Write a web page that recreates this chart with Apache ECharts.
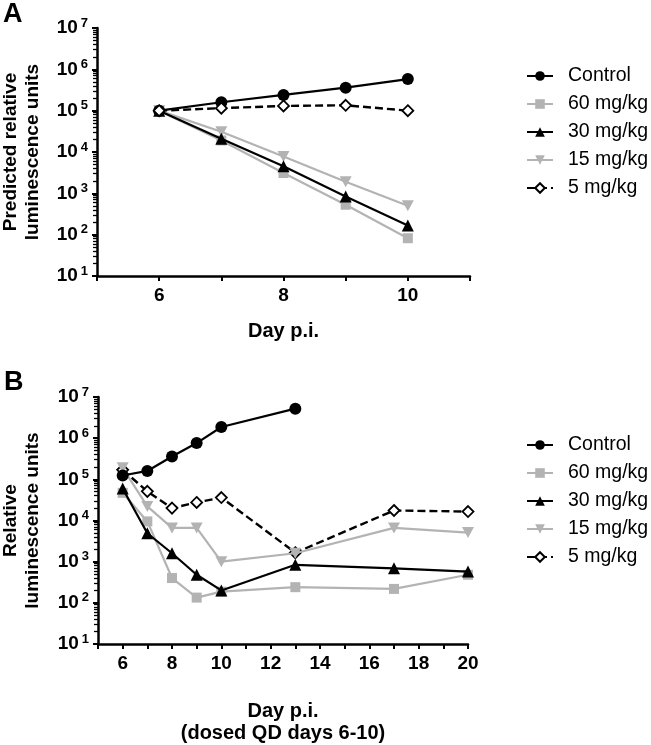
<!DOCTYPE html>
<html>
<head>
<meta charset="utf-8">
<script src="https://cdn.jsdelivr.net/npm/echarts@6/dist/echarts.min.js"></script>
<style>html,body{margin:0;padding:0;background:#fff;}#c{width:651px;height:745px;}</style>
</head>
<body>
<div id="c"></div>
<script>
// ---- Data ----
const seriesNames = ['Control', '60 mg/kg', '30 mg/kg', '15 mg/kg', '5 mg/kg'];

// Panel A (predicted)
const daysA = [6, 7, 8, 9, 10];
const controlA = [1.0e5, 1.6e5, 2.4e5, 3.6e5, 5.8e5];
const mg60A = [1.0e5, 1.9e4, 3.1e3, 530, 82];
const mg30A = [1.0e5, 2.1e4, 4.5e3, 840, 167];
const mg15A = [1.0e5, 3.1e4, 7.8e3, 1.9e3, 500];
const mg5A = [1.0e5, 1.15e5, 1.3e5, 1.35e5, 1.0e5];

// Panel B (observed)
const daysControlB = [6, 7, 8, 9, 10, 13];
const controlB = [1.24e5, 1.6e5, 3.6e5, 7.6e5, 1.87e6, 5.2e6];
const daysB = [6, 7, 8, 9, 10, 13, 17, 20];
const mg60B = [4.7e4, 9.5e3, 400, 134, 187, 240, 218, 480];
const mg30B = [6.0e4, 4.9e3, 1.6e3, 480, 200, 840, 690, 575];
const mg15B = [1.9e5, 2.2e4, 6.6e3, 6.6e3, 1.0e3, 1.6e3, 6.6e3, 5.1e3];
const mg5B = [1.7e5, 5.1e4, 2.0e4, 2.75e4, 3.6e4, 1.65e3, 1.75e4, 1.65e4];

// ---- Styles ----
const FONT = 'Arial, "Liberation Sans", sans-serif';
const GRAY = '#b3b3b3';
const BLACK = '#000000';

function pairs(xs, ys) { return xs.map((x, i) => [x, ys[i]]); }

const styles = {
  'Control': { color: BLACK, symbol: 'circle', symbolSize: 12, dashed: false, fill: BLACK },
  '60 mg/kg': { color: GRAY, symbol: 'rect', symbolSize: 10, dashed: false, fill: GRAY },
  '30 mg/kg': { color: BLACK, symbol: 'triangle', symbolSize: 12, dashed: false, fill: BLACK },
  '15 mg/kg': { color: GRAY, symbol: 'path://M0,0 L10,0 L5,9 Z', symbolSize: [12, 11], dashed: false, fill: GRAY },
  '5 mg/kg': { color: BLACK, symbol: 'diamond', symbolSize: 11, dashed: true, fill: '#ffffff' }
};

function mkSeries(name, xs, ys, idx, z) {
  const s = styles[name];
  return {
    name: name, type: 'line', xAxisIndex: idx, yAxisIndex: idx,
    data: pairs(xs, ys),
    symbol: s.symbol, symbolSize: s.symbolSize, showSymbol: true,
    z: z,
    lineStyle: { color: s.color, width: s.dashed ? 2.4 : 2.2, type: s.dashed ? [8, 4] : 'solid' },
    itemStyle: { color: s.fill, borderColor: s.color, borderWidth: s.dashed ? 1.8 : 0 },
    emphasis: { disabled: true },
    animation: false
  };
}

function yAxisCfg(idx, name, gap) {
  return {
    type: 'log', gridIndex: idx, min: 10, max: 1e7, logBase: 10, splitNumber: 6,
    name: name, nameLocation: 'middle', nameGap: gap,
    nameTextStyle: { fontFamily: FONT, fontWeight: 'bold', fontSize: 19, color: BLACK, lineHeight: 22 },
    axisLine: { show: true, lineStyle: { color: BLACK, width: 2.5 } },
    axisTick: { show: true, length: 5, lineStyle: { color: BLACK, width: 2 } },
    minorTick: { show: true, splitNumber: 9, length: 4, lineStyle: { color: BLACK, width: 1.3 } },
    splitLine: { show: false },
    axisLabel: {
      margin: 9,
      formatter: function (v) { const e = Math.round(Math.log10(v)); return '{b|10}{s|' + e + '}'; },
      rich: {
        b: { fontFamily: FONT, fontWeight: 'bold', fontSize: 19, color: BLACK },
        s: { fontFamily: FONT, fontWeight: 'bold', fontSize: 13, color: BLACK, padding: [0, 0, 10, 3] }
      }
    }
  };
}

function xAxisCfg(idx, min, max, name, gap) {
  return {
    type: 'value', gridIndex: idx, min: min, max: max, interval: 1,
    name: name, nameLocation: 'middle', nameGap: gap,
    nameTextStyle: { fontFamily: FONT, fontWeight: 'bold', fontSize: 20, color: BLACK, lineHeight: 22, verticalAlign: 'top' },
    axisLine: { show: true, onZero: false, lineStyle: { color: BLACK, width: 2.5 } },
    axisTick: { show: true, length: 5, lineStyle: { color: BLACK, width: 2 } },
    splitLine: { show: false },
    axisLabel: {
      margin: 10, fontFamily: FONT, fontWeight: 'bold', fontSize: 19, color: BLACK,
      formatter: function (v) { return (v % 2 === 0) ? String(v) : ''; }
    }
  };
}

function legendCfg(top) {
  return {
    data: seriesNames, orient: 'vertical', left: 526, top: top, padding: 0,
    itemWidth: 26, itemHeight: 12, itemGap: 8,
    textStyle: { fontFamily: FONT, fontSize: 19.5, color: BLACK, lineHeight: 20, padding: [0, 0, 0, 10] },
    selectedMode: false
  };
}

const option = {
  backgroundColor: '#ffffff',
  animation: false,
  grid: [
    { left: 97, top: 28, width: 373, height: 248, containLabel: false, outerBoundsMode: 'none' },
    { left: 98, top: 397, width: 370, height: 247, containLabel: false, outerBoundsMode: 'none' }
  ],
  xAxis: [
    xAxisCfg(0, 5, 11, 'Day p.i.', 44),
    xAxisCfg(1, 5, 20, 'Day p.i.\n(dosed QD days 6-10)', 56)
  ],
  yAxis: [
    yAxisCfg(0, 'Predicted relative\nluminescence units', 53),
    yAxisCfg(1, 'Relative\nluminescence units', 54)
  ],
  legend: [legendCfg(66), legendCfg(435)],
  series: [
    mkSeries('60 mg/kg', daysA, mg60A, 0, 2),
    mkSeries('15 mg/kg', daysA, mg15A, 0, 3),
    mkSeries('30 mg/kg', daysA, mg30A, 0, 4),
    mkSeries('Control', daysA, controlA, 0, 5),
    mkSeries('5 mg/kg', daysA, mg5A, 0, 6),
    mkSeries('5 mg/kg', daysB, mg5B, 1, 2),
    mkSeries('60 mg/kg', daysB, mg60B, 1, 3),
    mkSeries('30 mg/kg', daysB, mg30B, 1, 4),
    mkSeries('15 mg/kg', daysB, mg15B, 1, 5),
    mkSeries('Control', daysControlB, controlB, 1, 6)
  ],
  graphic: [
    { type: 'text', left: 3, top: 1, style: { text: 'A', font: 'bold 27px ' + FONT, fill: BLACK } },
    { type: 'text', left: 4, top: 369, style: { text: 'B', font: 'bold 27px ' + FONT, fill: BLACK } }
  ]
};

const chart = echarts.init(document.getElementById('c'), null, { renderer: 'canvas' });
chart.setOption(option);
</script>
</body>
</html>
